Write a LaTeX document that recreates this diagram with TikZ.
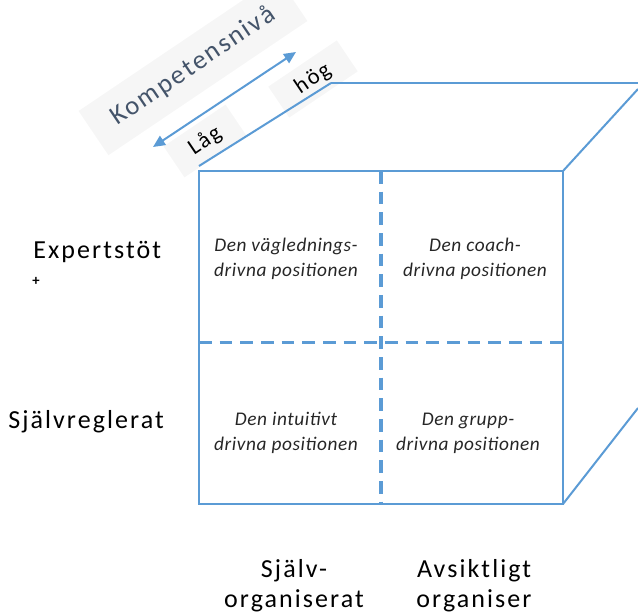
\documentclass[tikz,border=0pt]{standalone}
\usepackage{fontspec}
\setmainfont{Carlito}
\newfontfamily\spaced[LetterSpace=8]{Carlito}
\newfontfamily\lightspaced[LetterSpace=3]{Carlito}
\usetikzlibrary{arrows.meta,positioning,calc}
\definecolor{cubeblue}{HTML}{5B9BD5}
\definecolor{slate}{HTML}{44546A}
\definecolor{tagbg}{HTML}{F6F6F6}

\begin{document}
\begin{tikzpicture}[x=0.75pt,y=-0.75pt,
    frontline/.style={draw=cubeblue,line width=1.1pt},
    backline/.style={draw=cubeblue,line width=1.5pt},
    midline/.style={draw=cubeblue,line width=2.4pt,dash pattern=on 9.5pt off 6pt},
    celltext/.style={align=center,text=black!85,
      font=\fontsize{14.5}{18.75}\selectfont\lightspaced\itshape},
    sidelabel/.style={inner sep=0pt,font=\fontsize{19.5}{22.5}\selectfont\spaced},
    tagbox/.style={fill=tagbg,rotate=34,inner sep=5pt}]
     \useasboundingbox (0,0) rectangle (638,615);

     % cube corners
     \coordinate (ftl) at (199,171);
     \coordinate (ftr) at (563,171);
     \coordinate (fbr) at (563,504);
     \coordinate (fbl) at (199,504);
     \coordinate (btl) at (331,83);
     \coordinate (btr) at (638,83);
     \coordinate (lstart) at (199,166);
     \coordinate (rtop) at (638,89);
     \coordinate (rbot) at (638,408);

     % competence axis
     \node[tagbox,minimum width=180pt,minimum height=40pt,text=slate,
           font=\fontsize{20}{22}\selectfont\spaced] (komp) at (193,66) {Kompetensnivå};
     \node[tagbox,minimum width=56pt,minimum height=28pt,
           font=\fontsize{17}{18}\selectfont\spaced] (lag) at (205,141) {Låg};
     \node[tagbox,minimum width=62pt,minimum height=28pt,
           font=\fontsize{17}{18}\selectfont\spaced] (hog) at (313,79) {hög};
     \coordinate (lowend) at (153,147);
     \coordinate (highend) at (296,52);
     \draw[cubeblue,line width=1.5pt,{Triangle[length=9pt,width=8pt]}-{Triangle[length=9pt,width=8pt]}]
          (lowend) -- (highend);

     % cube
     \draw[backline] (lstart) -- (btl);
     \draw[cubeblue,line width=1.9pt] (btl) -- (btr);
     \draw[backline] (ftr) -- (rtop);
     \draw[backline] (fbr) -- (rbot);
     \draw[frontline] (ftl) -- (ftr) -- (fbr) -- (fbl) -- cycle;
     \draw[cubeblue,line width=1.8pt] (563,232) -- (563,297);
     \draw[cubeblue,line width=1.8pt] (563,405) -- (fbr);
     \draw[midline] ($(ftl)!0.5!(ftr)$) -- ($(fbl)!0.5!(fbr)$);
     \draw[midline] ($(ftl)!0.515!(fbl)$) -- ($(ftr)!0.515!(fbr)$);

     % quadrants
     \node[celltext] (guide) at (286,259) {Den väglednings-\\drivna positionen};
     \node[celltext] (coach) at (475,259) {Den coach-\\drivna positionen};
     \node[celltext] (intuit) at (286,433) {Den intuitivt\\drivna positionen};
     \node[celltext] (group) at (468,433) {Den grupp-\\drivna positionen};

     % axis labels
     \node[sidelabel,anchor=base west] (expert) at (33,258) {Expertstöt};
     \node[font=\fontsize{11}{12}\selectfont\bfseries,inner sep=0pt] (plus) at (36,281) {+};
     \node[sidelabel,anchor=base west] (selfreg) at (8,428) {Självreglerat};
     \node[sidelabel,align=center] (selforg) at (294,586) {Själv-\\organiserat};
     \node[sidelabel,align=center] (intorg) at (474,586) {Avsiktligt\\organiser};
\end{tikzpicture}
\end{document}
